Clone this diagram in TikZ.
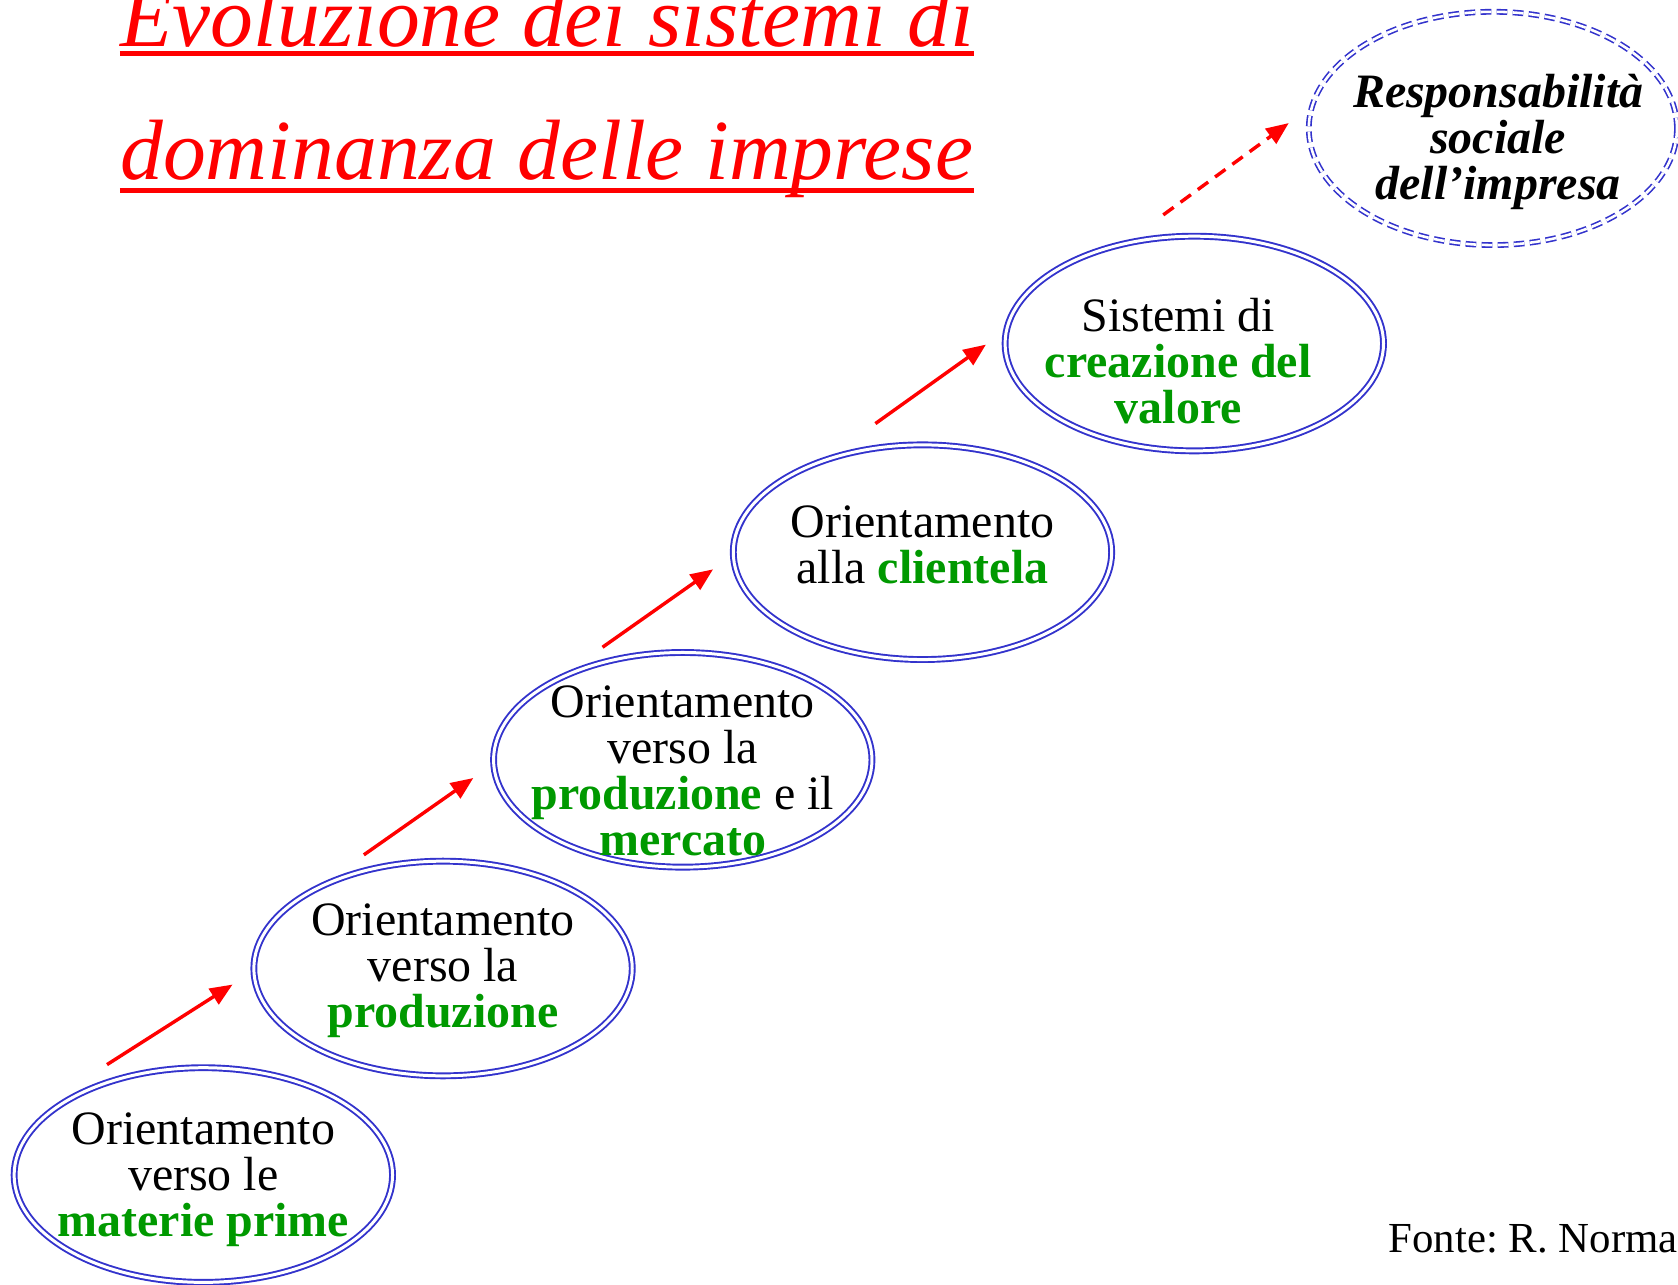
\documentclass[tikz,border=0pt]{standalone}
\usepackage{fontspec}
\setmainfont{Liberation Serif}
\usetikzlibrary{arrows.meta,shapes.geometric}

\definecolor{stepblue}{RGB}{51,51,204}
\definecolor{keygreen}{RGB}{0,153,0}
\definecolor{titlered}{RGB}{255,0,0}
\newcommand{\keyword}[1]{\textcolor{keygreen}{\textbf{#1}}}
\frenchspacing

\begin{document}
\begin{tikzpicture}[x=0.5pt,y=-0.5pt,>={Triangle[length=10.5pt,width=8.5pt]}]
        \tikzset{stage/.style={draw=stepblue, double, double distance=1.4pt, line width=0.9pt, ellipse, minimum width=176.8pt, minimum height=100.3pt, inner sep=0pt},
        future/.style={draw=stepblue, double, double distance=1.2pt, line width=0.75pt, dash pattern=on 5pt off 2.5pt, ellipse, minimum width=172pt, minimum height=109pt, inner sep=0pt},
        stagetext/.style={align=center, font=\fontsize{22.4}{21.5}\selectfont, inner sep=0pt},
        flow/.style={->, color=titlered, line width=1.6pt},
        title/.style={font=\fontsize{40}{40}\selectfont\itshape, text=titlered, inner sep=0pt, anchor=base west}
        }
        \useasboundingbox (0,0) rectangle (1568,1200);

%% title
        \node [title] (title1) at (112,43) {Evoluzione dei sistemi di};
        \node [title] (title2) at (112,168) {dominanza delle imprese};
        \draw [titlered, line width=2pt] ([yshift=-3.5pt]title1.base west) -- ([yshift=-3.5pt]title1.base east);
        \draw [titlered, line width=2pt] ([yshift=-5pt]title2.base west) -- ([yshift=-5pt]title2.base east);

%% stages
        \node [stage] (raw) at (190,1098) {};
        \node [stagetext] (rawtext) at ([yshift=-2pt]raw) {Orientamento\\verso le\\\keyword{materie prime}};
        \node [stage] (prod) at (414,905) {};
        \node [stagetext] (prodtext) at ([yshift=-1pt]prod) {Orientamento\\verso la\\\keyword{produzione}};
        \node [stage] (market) at (638,710) {};
        \node [stagetext] (markettext) at ([yshift=-5pt]market) {Orientamento\\verso la\\\keyword{produzione} e il\\\keyword{mercato}};
        \node [stage] (client) at (862,516) {};
        \node [stagetext] (clienttext) at ([yshift=3.5pt]client) {Orientamento\\alla \keyword{clientela}};
        \node [stage] (value) at (1116,321) {};
        \node [stagetext] (valuetext) at ([xshift=-7.5pt,yshift=-8pt]value) {Sistemi di\\\keyword{creazione del}\\\keyword{valore}};
        \node [future] (csr) at (1395,120) {};
        \node [stagetext, font=\fontsize{22.4}{21.5}\selectfont\bfseries\itshape] (csrtext) at ([xshift=2.5pt,yshift=-6.5pt]csr) {Responsabilità\\sociale\\dell’impresa};

        \node [anchor=base east, font=\fontsize{20}{24}\selectfont, inner sep=0pt] (source) at (1568,1170) {Fonte: R. Norma};

%% paths
        \draw [flow] ([xshift=-45pt,yshift=1pt]raw.north) -- ([xshift=-9.5pt,yshift=-7.5pt]prod.west);
        \draw [flow] ([xshift=-37pt,yshift=2.5pt]prod.north) -- ([xshift=-9pt,yshift=-8.5pt]market.west);
        \draw [flow] ([xshift=-37.5pt,yshift=2pt]market.north) -- ([xshift=-9pt,yshift=-8pt]client.west);
        \draw [flow] ([xshift=-22pt,yshift=9.5pt]client.north) -- ([xshift=-8.5pt,yshift=-0.5pt]value.west);
        \draw [flow, dash pattern=on 6pt off 4pt] ([xshift=-14.5pt,yshift=9.5pt]value.north) -- ([xshift=-9pt,yshift=2.5pt]csr.west);
\end{tikzpicture}
\end{document}
